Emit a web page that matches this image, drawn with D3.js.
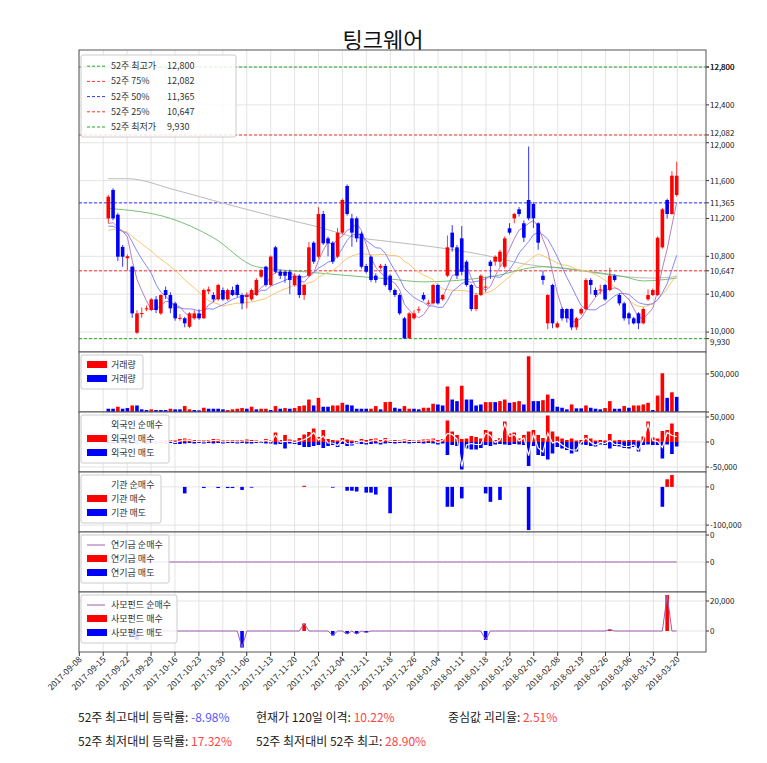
<!DOCTYPE html>
<html><head><meta charset="utf-8">
<script src="https://cdn.jsdelivr.net/npm/d3@7"></script>
<style>body{margin:0;background:#fff}text{font-family:"Noto Sans CJK KR","Noto Sans",sans-serif}</style>
</head><body><svg id="c" width="767" height="763"></svg>
<script>
const title = "팅크웨어";
// OHLC [open, high, low, close]
const candles = [
[11201,11450,11150,11430],[11501,11520,11180,11201],[11240,11260,10750,10796],[10900,10920,10690,10796],[10780,10820,10650,10800],
[10690,10700,10150,10197],[9993,10230,9980,10197],[10190,10260,10150,10200],[10240,10280,10220,10250],[10233,10360,10220,10345],
[10345,10380,10200,10233],[10197,10400,10180,10391],[10444,10480,10350,10391],[10391,10420,10200,10250],[10303,10320,10120,10145],
[10140,10190,10120,10150],[10145,10160,10050,10092],[10056,10210,10040,10197],[10145,10230,10130,10197],[10197,10240,10130,10145],
[10145,10460,10140,10444],[10430,10480,10400,10450],[10391,10420,10320,10345],[10345,10510,10330,10497],[10444,10470,10330,10345],
[10345,10460,10330,10444],[10444,10480,10380,10391],[10497,10510,10370,10391],[10391,10410,10240,10303],[10370,10420,10250,10390],
[10345,10460,10330,10444],[10391,10570,10380,10550],[10585,10670,10570,10655],[10690,10700,10480,10497],[10497,10810,10480,10796],
[10895,10910,10620,10637],[10637,10660,10560,10595],[10637,10650,10520,10595],[10637,10660,10400,10550],[10497,10620,10480,10595],
[10595,10610,10360,10391],[10391,10510,10340,10497],[10595,10950,10580,10895],[10944,10960,10720,10743],[10796,11320,10780,11247],
[11247,11280,10920,10937],[10990,11010,10800,10937],[10944,10960,10720,10743],[10796,11100,10780,11050],[11050,11410,11030,11395],
[11543,11560,11230,11247],[11201,11250,10900,11050],[11201,11220,10950,10990],[11040,11060,10670,10690],[10698,10720,10620,10637],
[10796,10810,10530,10550],[10595,10620,10520,10550],[10680,10720,10660,10700],[10698,10720,10480,10497],[10595,10610,10420,10444],
[10444,10460,10370,10391],[10391,10410,10180,10197],[10145,10160,9930,9933],[9933,10210,9930,10197],[10145,10230,10130,10197],
[10230,10270,10200,10240],[10391,10420,10330,10345],[10300,10340,10280,10310],[10303,10510,10290,10497],[10497,10510,10290,10303],
[10345,10400,10330,10391],[10595,11020,10580,10895],[11050,11130,10850,10895],[10895,10920,10560,10595],[10990,11120,10600,10637],
[10743,10760,10480,10497],[10497,10510,10220,10243],[10243,10410,10220,10391],[10391,10610,10380,10595],[10470,10580,10420,10480],
[10743,10760,10560,10698],[10743,10810,10700,10796],[10743,10870,10690,10849],[10690,11010,10670,10990],[11096,11150,11030,11050],
[11201,11260,11150,11247],[11297,11320,11220,11247],[11149,11180,10950,10997],[11395,11960,11180,11201],[11353,11370,11100,11201],
[11149,11160,10870,10944],[10595,10650,10500,10550],[10092,10400,10030,10391],[10497,10510,10040,10092],[10049,10110,10040,10092],
[10243,10260,10120,10145],[10243,10250,10100,10145],[10243,10250,10020,10049],[10049,10160,10020,10145],[10197,10260,10180,10243],
[10243,10570,10230,10550],[10550,10570,10400,10497],[10444,10470,10370,10391],[10440,10500,10400,10450],[10497,10510,10330,10345],
[10444,10680,10430,10595],[10595,10610,10530,10550],[10391,10410,10280,10303],[10303,10320,10120,10145],[10197,10210,10080,10145],
[10145,10160,10080,10092],[10197,10210,10030,10092],[10092,10260,10080,10243],[10345,10450,10330,10391],[10391,10460,10380,10444],
[10391,11010,10380,10997],[10895,11310,10880,11297],[11395,11410,11200,11247],[11247,11700,11240,11652],[11448,11800,11430,11652]];
const priorCloses = [10900,10950,11000,11050,11100,11000,10950,11050,11100,11150,11200,11100,11050,11000,11100,11150,11050,11000,11100];
const ma60Knots = [[1,11306],[14,11201],[23,10997],[32,10690],[42,10637],[60,10560],[67,10530],[81,10585],[92,10690],[102,10637],[109,10585],[113,10540],[120,10570]];
const ma120Knots = [[1,11620],[5,11620],[15,11501],[23,11390],[35,11230],[45,11110],[52,11010],[60,10955],[69,10900],[79,10820],[88,10720],[99,10655],[109,10585],[115,10570],[120,10585]];
// volume in thousands, colour r/b
const volume = [43,43,69,43,52,86,86,35,26,35,26,26,26,43,35,35,78,35,26,22,56,43,43,43,35,26,35,43,52,43,69,35,43,43,26,78,43,52,43,52,78,86,164,86,186,69,69,86,86,121,95,86,43,43,43,43,78,35,130,
134,56,43,78,43,43,35,56,56,108,99,86,336,164,143,345,164,164,86,99,130,130,130,143,164,121,130,143,99,733,143,143,155,229,173,69,56,35,99,48,48,86,56,43,35,52,143,43,43,78,56,86,86,99,121,26,216,509,186,259,199];
const volColor = "bbrbbrbbbrbbbrbbrrbbrbbbbrrrrbrbrrbrbrbrrrrbrbbrrrbbbbbrrbr"+"rbbrrbbrrrbbrbbrbbbbrrbrrbrrbrbbrrbbbbrbbrbbbrrbbrbrrrrbrrbrb";
// foreign buy / sell (thousands)
const foreignBuy = [3,4,3,5,2,0,3,2,2,3,2,3,2,4,3,6,7,5,4,3,3,4,6,5,3,3,4,3,4,5,4,3,2,6,3,19,4,14,5,3,8,15,20,27,10,24,6,4,3,8,5,3,2,6,4,6,7,4,8,
3,4,3,5,4,3,4,5,6,7,4,6,43,21,14,6,7,12,10,7,24,21,4,8,41,17,19,7,14,21,24,14,8,53,21,11,7,4,7,3,4,14,7,3,4,3,16,3,4,3,4,4,3,11,41,9,7,22,24,37,20];
const foreignSell = [2,3,2,2,3,5,3,2,4,2,3,2,3,2,4,4,3,2,3,2,3,2,3,2,3,2,2,3,2,3,3,2,2,3,3,5,4,13,3,4,6,10,10,8,6,12,8,6,10,4,8,7,3,4,5,4,3,5,3,
2,3,2,2,3,2,2,3,2,3,5,3,26,6,8,55,13,15,15,12,6,8,5,4,5,6,4,5,6,48,8,26,28,35,23,10,13,16,23,19,5,6,8,9,5,6,13,8,9,12,13,10,19,6,5,6,6,33,5,24,9];
const instNet = [[7,-3],[17,-17],[21,-3],[24,-3],[26,-3],[27,-3],[29,-8],[31,-2],[42,3],[48,-2],[51,-10],[52,-10],[53,-12],[55,-15],[56,-15],[57,-20],[60,-69],[72,-52],[73,-52],[75,-30],[80,-17],[81,-39],[83,-34],[89,-113],[117,-52],[118,20],[119,31]];
const samoNet = [[6,-4],[7,-6],[29,-11],[42,5],[48,-3],[51,-2],[53,-2],[55,-1],[80,-6],[106,1],[118,24]];
const dateTicks = ["2017-09-08","2017-09-15","2017-09-22","2017-09-29","2017-10-16","2017-10-23","2017-10-30","2017-11-06","2017-11-13","2017-11-20","2017-11-27","2017-12-04","2017-12-11","2017-12-18","2017-12-26","2018-01-04","2018-01-11","2018-01-18","2018-01-25","2018-02-01","2018-02-08","2018-02-19","2018-02-26","2018-03-06","2018-03-13","2018-03-20"];
const levels = [["52주 최고가",12800,"#2a2"],["52주 75%",12082,"#f33"],["52주 50%",11365,"#33f"],["52주 25%",10647,"#f33"],["52주 최저가",9930,"#2a2"]];
const priceTicks = [10000,10400,10800,11200,11600,12000,12400,12800];
const stats = [["52주 최고대비 등락률: ","-8.98%","#55f",78,722],["현재가 120일 이격: ","10.22%","#f44",256,722],["중심값 괴리율: ","2.51%","#f44",448,722],
               ["52주 최저대비 등락률: ","17.32%","#f44",78,746],["52주 최저대비 52주 최고: ","28.90%","#f44",256,746]];

const svg = d3.select("#c");
const L=79, R=706, N=candles.length;
const x = d3.scaleLinear().domain([0,N-1]).range([108.3,676.7]);
const xt = d3.scaleLinear().domain([0,dateTicks.length-1]).range([79.3,677.3]);
const cw = 3.6;
const fmt = d3.format(",");
const isUp = d => d[3] >= d[0];
const nudge = {12000:2,12082:-2,9930:3,10000:-1};

svg.append("text").attr("x",383).attr("y",48).attr("text-anchor","middle").attr("font-size",22).attr("fill","#111").text(title);

function panel(top,bot,y,ticks,labels){
  const g = svg.append("g");
  g.append("rect").attr("x",L).attr("y",top).attr("width",R-L).attr("height",bot-top).attr("fill","#fff");
  g.selectAll(".vg").data(dateTicks).join("line").attr("x1",(d,i)=>xt(i)).attr("x2",(d,i)=>xt(i)).attr("y1",top).attr("y2",bot).attr("stroke","#ddd").attr("stroke-width",0.8);
  ticks.forEach((t,i)=>{
    const yy=y(t);
    if(yy>=top-0.5&&yy<=bot+0.5) g.append("line").attr("x1",L).attr("x2",R).attr("y1",yy).attr("y2",yy).attr("stroke","#ddd").attr("stroke-width",0.8);
    g.append("line").attr("x1",R).attr("x2",R+3).attr("y1",yy).attr("y2",yy).attr("stroke","#333");
    const lab = labels?labels[i]:fmt(t);
    const dy = labels?0:(nudge[t]||0);
    if(lab) g.append("text").attr("x",R+4).attr("y",yy+3+dy).attr("font-size",8).attr("fill","#222").text(lab);
  });
  return g;
}
function frame(top,bot){
  svg.append("rect").attr("x",L).attr("y",top).attr("width",R-L).attr("height",bot-top).attr("fill","none").attr("stroke","#555").attr("stroke-width",1);
}
function legend(g,x0,y0,items,w,step,valX){
  const h = items.length*step+6;
  g.append("rect").attr("x",x0).attr("y",y0).attr("width",w).attr("height",h).attr("rx",2).attr("fill","#fff").attr("fill-opacity",0.85).attr("stroke","#ccc");
  items.forEach((it,i)=>{
    const yy=y0+step-1+i*step;
    if(it.type==="line") g.append("line").attr("x1",x0+6).attr("x2",x0+24).attr("y1",yy-3).attr("y2",yy-3).attr("stroke",it.color).attr("stroke-dasharray",it.dash||null).attr("stroke-width",1);
    else g.append("rect").attr("x",x0+6).attr("y",yy-7).attr("width",20).attr("height",7).attr("fill",it.color);
    g.append("text").attr("x",x0+30).attr("y",yy).attr("font-size",9).attr("fill","#333").text(it.label);
    if(it.val) g.append("text").attr("x",x0+valX).attr("y",yy).attr("font-size",9).attr("fill","#333").text(it.val);
  });
}

// main price panel
const yP = d3.scaleLinear().domain([9789,12980]).range([352,50]);
const mainG = panel(50,352,yP,priceTicks.concat(levels.map(l=>l[1])));
levels.forEach(l=>mainG.append("line").attr("x1",L).attr("x2",R).attr("y1",yP(l[1])).attr("y2",yP(l[1])).attr("stroke",l[2]).attr("stroke-dasharray","3,2").attr("stroke-width",1));
const closes = priorCloses.concat(candles.map(d=>d[3]));
function ma(n){ return candles.map((d,i)=>{const j=i+priorCloses.length; const s=closes.slice(Math.max(0,j-n+1),j+1); return d3.mean(s);}); }
const line = d3.line().x(d=>x(d[0])).y(d=>yP(d[1])).curve(d3.curveMonotoneX);
mainG.append("path").attr("d",line(ma120Knots.map(k=>[k[0]-1,k[1]]))).attr("fill","none").attr("stroke","#bbb").attr("stroke-width",1);
mainG.append("path").attr("d",line(ma60Knots.map(k=>[k[0]-1,k[1]]))).attr("fill","none").attr("stroke","#6b6").attr("stroke-width",0.9);
[[20,"#f8c060"],[10,"#77f"],[5,"#b070c0"]].forEach(([n,c])=>{
  mainG.append("path").attr("d",d3.line().x((d,i)=>x(i)).y(d=>yP(d))(ma(n))).attr("fill","none").attr("stroke",c).attr("stroke-width",0.9);
});
const cg = mainG.selectAll(".cd").data(candles).join("g");
cg.append("line").attr("x1",(d,i)=>x(i)).attr("x2",(d,i)=>x(i)).attr("y1",d=>yP(d[1])).attr("y2",d=>yP(d[2])).attr("stroke",d=>isUp(d)?"#f00":"#00f").attr("stroke-width",0.8);
cg.append("rect").attr("x",(d,i)=>x(i)-cw/2).attr("width",cw).attr("y",d=>yP(Math.max(d[0],d[3]))).attr("height",d=>Math.max(1,Math.abs(yP(d[0])-yP(d[3])))).attr("fill",d=>isUp(d)?"#f00":"#00f");
legend(mainG,81,55,levels.map(l=>({type:"line",color:l[2],dash:"3,2",label:l[0],val:fmt(l[1])})),155,15.2,86);
frame(50,352);

// volume
const yV = d3.scaleLinear().domain([0,789]).range([412,352]);
const vG = panel(352,412,yV,[0,500],["","500,000"]);
vG.selectAll(".v").data(volume).join("rect").attr("x",(d,i)=>x(i)-cw/2).attr("width",cw).attr("y",d=>yV(d)).attr("height",d=>yV(0)-yV(d)).attr("fill",(d,i)=>volColor[i]==="r"?"#f00":"#00f");
legend(vG,81,355,[{color:"#f00",label:"거래량"},{color:"#00f",label:"거래량"}],62,14);
frame(352,412);

// foreign
const yF = d3.scaleLinear().domain([-60,60]).range([472,412]);
const fG = panel(412,472,yF,[50,0,-50],["50,000","0","-50,000"]);
fG.selectAll(".fb").data(foreignBuy).join("rect").attr("x",(d,i)=>x(i)-cw/2).attr("width",cw).attr("y",d=>yF(d)).attr("height",d=>yF(0)-yF(d)).attr("fill","#f00");
fG.selectAll(".fs").data(foreignSell).join("rect").attr("x",(d,i)=>x(i)-cw/2).attr("width",cw).attr("y",yF(0)).attr("height",d=>yF(-d)-yF(0)).attr("fill","#00f");
fG.append("path").attr("d",d3.line().x((d,i)=>x(i)).y((d,i)=>yF(d-foreignSell[i]))(foreignBuy)).attr("fill","none").attr("stroke","#fff").attr("stroke-width",1.2);
legend(fG,81,415,[{type:"line",color:"#fff",label:"외국인 순매수"},{color:"#f00",label:"외국인 매수"},{color:"#00f",label:"외국인 매도"}],88,14);
frame(412,472);

// institutions
function full(sparse){ const a=new Array(N).fill(0); sparse.forEach(([i,v])=>a[i-1]=v); return a; }
const inst = full(instNet);
const yI = d3.scaleLinear().domain([-118,39]).range([532,472]);
const iG = panel(472,532,yI,[0,-100],["0","-100,000"]);
iG.selectAll(".ib").data(inst).join("rect").attr("x",(d,i)=>x(i)-cw/2).attr("width",cw).attr("y",d=>yI(Math.max(0,d))).attr("height",d=>Math.abs(yI(d)-yI(0))).attr("fill",d=>d>0?"#f00":"#00f");
legend(iG,81,475,[{type:"line",color:"#fff",label:"기관 순매수"},{color:"#f00",label:"기관 매수"},{color:"#00f",label:"기관 매도"}],80,14);
frame(472,532);

// pension
const yN = d3.scaleLinear().domain([-1,1]).range([592,532]);
const nG = panel(532,592,yN,[0.9,0],["0","0"]);
nG.append("path").attr("d",d3.line().x((d,i)=>x(i)).y(()=>yN(0))(new Array(N).fill(0))).attr("stroke","#a060b0").attr("stroke-width",1).attr("fill","none");
legend(nG,81,535,[{type:"line",color:"#a060b0",label:"연기금 순매수"},{color:"#f00",label:"연기금 매수"},{color:"#00f",label:"연기금 매도"}],88,14);
frame(532,592);

// private funds
const samo = full(samoNet);
const yS = d3.scaleLinear().domain([-14,26]).range([652,592]);
const sG = panel(592,652,yS,[20,0],["20,000","0"]);
sG.selectAll(".sb").data(samo).join("rect").attr("x",(d,i)=>x(i)-cw/2).attr("width",cw).attr("y",d=>yS(Math.max(0,d))).attr("height",d=>Math.abs(yS(d)-yS(0))).attr("fill",d=>d>0?"#f00":"#00f");
sG.append("path").attr("d",d3.line().x((d,i)=>x(i)).y(d=>yS(d))(samo)).attr("stroke","#a060b0").attr("stroke-width",1).attr("fill","none");
legend(sG,81,595,[{type:"line",color:"#a060b0",label:"사모펀드 순매수"},{color:"#f00",label:"사모펀드 매수"},{color:"#00f",label:"사모펀드 매도"}],96,14);
frame(592,652);

// x axis
dateTicks.forEach((d,i)=>{
  svg.append("line").attr("x1",xt(i)).attr("x2",xt(i)).attr("y1",652).attr("y2",656).attr("stroke","#333");
  svg.append("text").attr("transform",`translate(${xt(i)+3},${660}) rotate(-45)`).attr("text-anchor","end").attr("font-size",8.5).attr("fill","#222").text(d);
});

// stats
stats.forEach(s=>{
  const t = svg.append("text").attr("x",s[3]).attr("y",s[4]).attr("font-size",12).attr("fill","#222");
  t.append("tspan").text(s[0]);
  t.append("tspan").attr("fill",s[2]).text(s[1]);
});
</script></body></html>
